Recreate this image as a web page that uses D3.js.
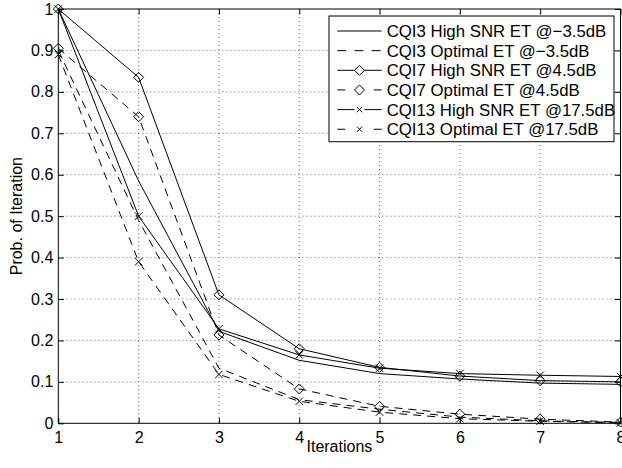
<!DOCTYPE html>
<html>
<head>
<meta charset="utf-8">
<script src="https://cdn.jsdelivr.net/npm/d3@7"></script>
<style>
  html, body { margin: 0; padding: 0; background: #fff; }
  svg { display: block; }
  text { font-family: "Liberation Sans", Arial, Helvetica, sans-serif; fill: #000; }
</style>
</head>
<body>
<svg id="chart" width="622" height="468"></svg>
<script>
// ---- data ----
const iterations = [1, 2, 3, 4, 5, 6, 7, 8];
const cqi3High  = [1.000, 0.585, 0.222, 0.152, 0.120, 0.107, 0.097, 0.094];
const cqi3Opt   = [0.900, 0.490, 0.133, 0.057, 0.034, 0.015, 0.006, 0.002];
const cqi7High  = [1.000, 0.835, 0.310, 0.180, 0.135, 0.114, 0.103, 0.100];
const cqi7Opt   = [0.905, 0.740, 0.213, 0.083, 0.041, 0.022, 0.010, 0.003];
const cqi13High = [1.000, 0.500, 0.228, 0.165, 0.133, 0.120, 0.116, 0.113];
const cqi13Opt  = [0.890, 0.390, 0.118, 0.053, 0.027, 0.011, 0.005, 0.001];
const seriesNames = [
  "CQI3 High SNR ET @\u22123.5dB",
  "CQI3 Optimal ET @\u22123.5dB",
  "CQI7 High SNR ET @4.5dB",
  "CQI7 Optimal ET @4.5dB",
  "CQI13 High SNR ET @17.5dB",
  "CQI13 Optimal ET @17.5dB"
];
const xTicks = [1, 2, 3, 4, 5, 6, 7, 8];
const yTicks = [0, 0.1, 0.2, 0.3, 0.4, 0.5, 0.6, 0.7, 0.8, 0.9, 1];
const yTickLabels = ["0", "0.1", "0.2", "0.3", "0.4", "0.5", "0.6", "0.7", "0.8", "0.9", "1"];
const xLabel = "Iterations";
const yLabel = "Prob. of Iteration";

// ---- styles (not data) ----
const styles = [
  { dash: null,  marker: null },
  { dash: "8,6", marker: null },
  { dash: null,  marker: "diamond" },
  { dash: "8,6", marker: "diamond" },
  { dash: null,  marker: "x" },
  { dash: "8,6", marker: "x" }
];
const seriesValues = [cqi3High, cqi3Opt, cqi7High, cqi7Opt, cqi13High, cqi13Opt];

const L = 58.3, R = 620.5, T = 9, B = 423.3;
const svg = d3.select("#chart");
const x = d3.scaleLinear().domain([1, 8]).range([L, R]);
const y = d3.scaleLinear().domain([0, 1]).range([B, T]);

// grid
const grid = svg.append("g").attr("stroke", "#444").attr("stroke-width", 0.8)
  .attr("stroke-dasharray", "1,3");
grid.selectAll("line.v").data(xTicks.slice(1, -1)).enter().append("line")
  .attr("x1", d => x(d)).attr("x2", d => x(d)).attr("y1", T).attr("y2", B);
grid.selectAll("line.h").data(yTicks.slice(1, -1)).enter().append("line")
  .attr("x1", L).attr("x2", R).attr("y1", d => y(d)).attr("y2", d => y(d));

// axes
const fs = 16;
const axB = svg.append("g").attr("transform", `translate(0,${B})`)
  .call(d3.axisBottom(x).tickValues(xTicks).tickFormat(d3.format("d"))
    .tickSizeInner(-5.5).tickSizeOuter(0).tickPadding(8.6));
const axT = svg.append("g").attr("transform", `translate(0,${T})`)
  .call(d3.axisTop(x).tickValues(xTicks).tickFormat("").tickSizeInner(-5.5).tickSizeOuter(0));
const axL = svg.append("g").attr("transform", `translate(${L},0)`)
  .call(d3.axisLeft(y).tickValues(yTicks).tickFormat((d, i) => yTickLabels[i])
    .tickSizeInner(-5.5).tickSizeOuter(0).tickPadding(5));
const axR = svg.append("g").attr("transform", `translate(${R},0)`)
  .call(d3.axisRight(y).tickValues(yTicks).tickFormat("").tickSizeInner(-5.5).tickSizeOuter(0));
[axB, axT, axL, axR].forEach(a => {
  a.select(".domain").remove();
  a.selectAll(".tick line").attr("stroke", "#000").attr("stroke-width", 1);
  a.selectAll("text").attr("font-size", fs).attr("font-family", null).style("fill", "#000");
});

// frame
svg.append("rect").attr("x", L).attr("y", T).attr("width", R - L).attr("height", B - T)
  .attr("fill", "none").attr("stroke", "#000").attr("stroke-width", 1);

// axis labels
svg.append("text").attr("x", (L + R) / 2).attr("y", 452).attr("text-anchor", "middle")
  .attr("font-size", fs).text(xLabel);
svg.append("text").attr("transform", `translate(22,${(T + B) / 2}) rotate(-90)`)
  .attr("text-anchor", "middle").attr("font-size", fs).text(yLabel);

// markers
function drawMarker(g, type, cx, cy, s) {
  if (type === "diamond") {
    g.append("path")
      .attr("d", `M${cx},${cy - s}L${cx + s},${cy}L${cx},${cy + s}L${cx - s},${cy}Z`)
      .attr("fill", "none").attr("stroke", "#000").attr("stroke-width", 1);
  } else if (type === "x") {
    const k = s * 0.75;
    g.append("path")
      .attr("d", `M${cx - k},${cy - k}L${cx + k},${cy + k}M${cx - k},${cy + k}L${cx + k},${cy - k}`)
      .attr("fill", "none").attr("stroke", "#000").attr("stroke-width", 1);
  }
}

// lines
const line = d3.line().x(d => x(d[0])).y(d => y(d[1]));
const plot = svg.append("g");
seriesValues.forEach((vals, i) => {
  const pts = iterations.map((it, j) => [it, vals[j]]);
  plot.append("path").datum(pts).attr("d", line)
    .attr("fill", "none").attr("stroke", "#000").attr("stroke-width", 1)
    .attr("stroke-dasharray", styles[i].dash);
  if (styles[i].marker) {
    const mg = plot.append("g");
    pts.forEach(p => drawMarker(mg, styles[i].marker, x(p[0]), y(p[1]), 5));
  }
});

// legend
const lg = svg.append("g");
lg.append("rect").attr("x", 329).attr("y", 16).attr("width", 285).attr("height", 125.7)
  .attr("fill", "#fff").attr("stroke", "#000").attr("stroke-width", 1);
const lx0 = 337.3, lx1 = 381.7, lxm = 359.5, ltx = 386.7;
seriesNames.forEach((name, i) => {
  const cy = 31 + i * 19.65;
  const st = styles[i];
  if (!st.dash) {
    if (st.marker) {
      lg.append("line").attr("x1", lx0).attr("x2", lxm - 5).attr("y1", cy).attr("y2", cy).attr("stroke", "#000");
      lg.append("line").attr("x1", lxm + 5).attr("x2", lx1).attr("y1", cy).attr("y2", cy).attr("stroke", "#000");
    } else {
      lg.append("line").attr("x1", lx0).attr("x2", lx1).attr("y1", cy).attr("y2", cy).attr("stroke", "#000");
    }
  } else {
    if (st.marker) {
      lg.append("line").attr("x1", lx0).attr("x2", lx0 + 8).attr("y1", cy).attr("y2", cy).attr("stroke", "#000");
      lg.append("line").attr("x1", lx1 - 8).attr("x2", lx1).attr("y1", cy).attr("y2", cy).attr("stroke", "#000");
    } else {
      lg.append("line").attr("x1", lx0).attr("x2", lx1).attr("y1", cy).attr("y2", cy).attr("stroke", "#000")
        .attr("stroke-dasharray", "9,8.2");
    }
  }
  if (st.marker) drawMarker(lg, st.marker, lxm, cy, st.marker === "diamond" ? 5 : 3.5);
  lg.append("text").attr("x", ltx).attr("y", cy + 6).attr("font-size", 16.8).text(name);
});
</script>
</body>
</html>
